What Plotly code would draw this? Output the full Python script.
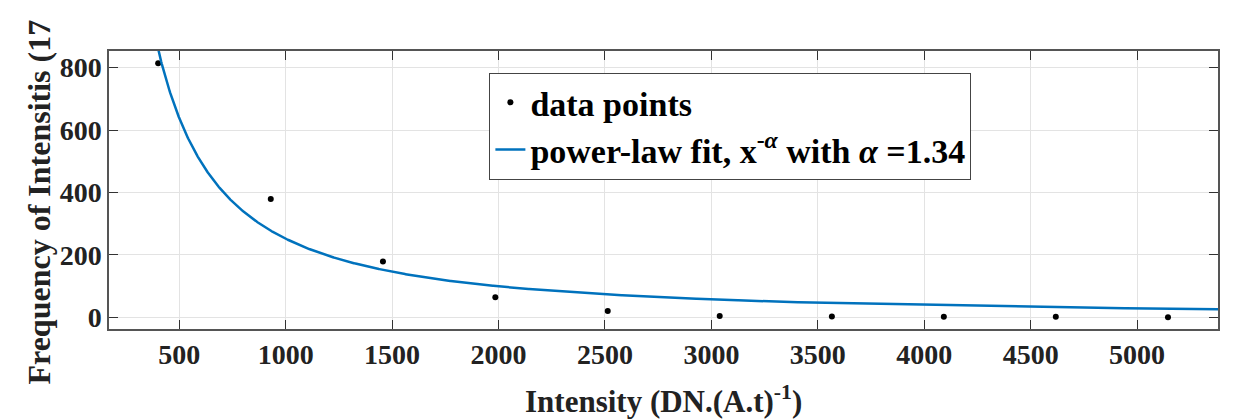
import numpy as np
import plotly.graph_objects as go

# data points
x_points = [401, 930, 1457, 1985, 2513, 3039, 3566, 4092, 4618, 5145]
y_points = [814, 379, 179, 65, 21, 5, 3, 2, 2, 1]

# power-law fit parameters (legend: x^-alpha, alpha = 1.34)
fit_alpha = 1.34
fit_scale = 2.64e6
fit_x_start = 380
fit_x_end = 5380

x_ticks = [500, 1000, 1500, 2000, 2500, 3000, 3500, 4000, 4500, 5000]
y_ticks = [0, 200, 400, 600, 800]

fit_x = np.linspace(fit_x_start, fit_x_end, 2000)
fit_y = fit_scale * fit_x ** (-fit_alpha)

FONT = "Liberation Serif"
AXC = "#555555"

fig = go.Figure()
fig.add_trace(go.Scatter(
    x=x_points, y=y_points, mode="markers", name="data points",
    marker=dict(color="black", size=6),
))
fig.add_trace(go.Scatter(
    x=fit_x, y=fit_y, mode="lines",
    name="power-law fit, x<sup>-<i>α</i></sup> with <i>α</i> =1.34",
    line=dict(color="#0072BD", width=2.5),
))

axis_common = dict(
    showline=True, linecolor=AXC, linewidth=1.5, mirror="ticks",
    ticks="inside", ticklen=9, tickcolor="#333333", tickwidth=1.2,
    showgrid=True, gridcolor="#e3e3e3", gridwidth=1, zeroline=False,
    tickfont=dict(family=FONT, size=28, color="#222222", weight="bold"),
)

fig.update_layout(
    width=1244, height=420,
    margin=dict(l=109, r=26, t=51, b=91),
    paper_bgcolor="white", plot_bgcolor="white",
    showlegend=True,
    legend=dict(
        x=0.343, y=0.922, xanchor="left", yanchor="top",
        bgcolor="white", bordercolor="#444444", borderwidth=1,
        font=dict(family=FONT, size=34, color="black", weight="bold"),
        tracegroupgap=0,
    ),
    xaxis=dict(range=[170, 5380], tickvals=x_ticks, **axis_common),
    yaxis=dict(range=[-37, 853], tickvals=y_ticks, **axis_common),
    annotations=[
        dict(
            text="Intensity (DN.(A.t)<sup>-1</sup>)",
            xref="paper", yref="paper", x=0.5, y=-0.176,
            xanchor="center", yanchor="top", showarrow=False,
            font=dict(family=FONT, size=31, color="#222222", weight="bold"),
        ),
        dict(
            text="Frequency of Intensitis (17",
            xref="paper", yref="paper", x=-0.064, y=0.455,
            xanchor="center", yanchor="middle", showarrow=False,
            textangle=-90,
            font=dict(family=FONT, size=32, color="#222222", weight="bold"),
        ),
    ],
)

fig.write_html("out.html")
